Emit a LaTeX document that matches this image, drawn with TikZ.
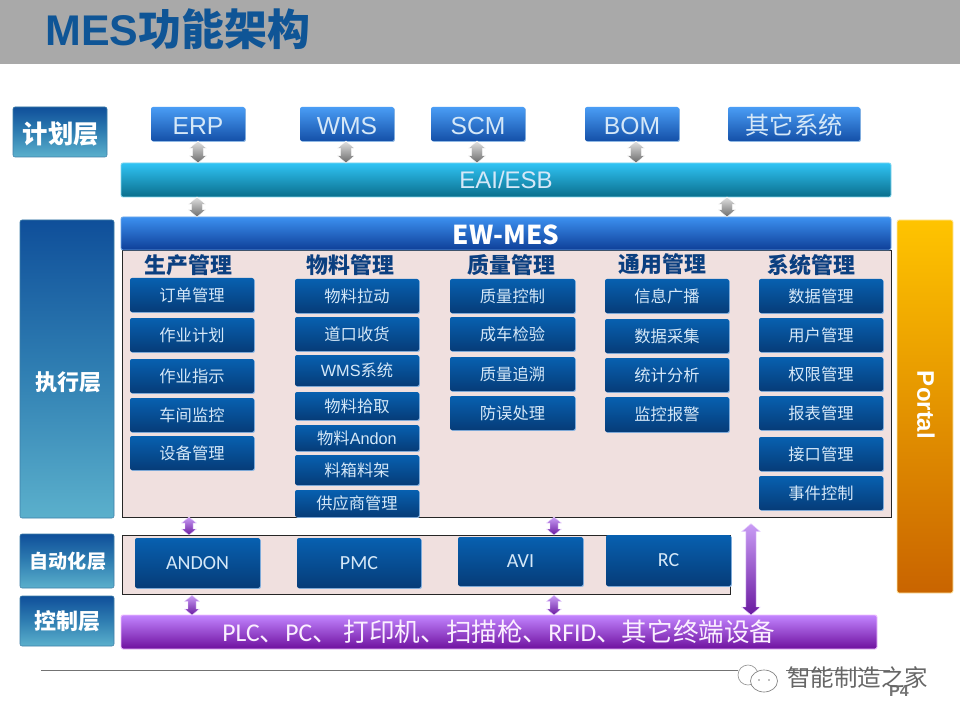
\documentclass[tikz,border=0pt]{standalone}
\usepackage{fontspec}
\setmainfont{Noto Sans CJK SC}
\newfontfamily\arialf{Liberation Sans}
\newfontfamily\calf{Carlito}
\usetikzlibrary{calc,shadows}
\definecolor{hdr}{HTML}{A9A9A9}
\definecolor{ttl}{HTML}{0F5596}
\definecolor{pnl}{HTML}{F0E0DF}
\definecolor{txtb}{HTML}{D5E8F8}
\definecolor{ltop}{HTML}{0F4F9A}\definecolor{lbot}{HTML}{5BB0CC}\definecolor{lmid}{HTML}{2F7EB2}\definecolor{ledge}{HTML}{3E7FA8}
\definecolor{stop}{HTML}{4A9DF5}\definecolor{sbot}{HTML}{1450A8}\definecolor{sedge}{HTML}{9CC8F2}
\definecolor{etop}{HTML}{30C4F5}\definecolor{ebot}{HTML}{0A6E8C}\definecolor{eedge}{HTML}{7FD6EE}
\definecolor{wtop}{HTML}{3C90F0}\definecolor{wbot}{HTML}{0E3F98}\definecolor{wedge}{HTML}{6FA8E8}
\definecolor{mtop}{HTML}{0760B0}\definecolor{mbot}{HTML}{063C78}\definecolor{medge}{HTML}{8FB8E4}
\definecolor{ptop}{HTML}{FFC400}\definecolor{pbot}{HTML}{C96400}\definecolor{pedge}{HTML}{FFE9A8}
\definecolor{ctop}{HTML}{C285FF}\definecolor{cbot}{HTML}{6E109E}\definecolor{cedge}{HTML}{F0C0FF}\definecolor{ctxt}{HTML}{FBEFFF}
\definecolor{tcol}{HTML}{0B3F80}\definecolor{gtop}{HTML}{E2E2E2}\definecolor{gbot}{HTML}{6A6A6A}
\definecolor{vtop}{HTML}{C99CF5}\definecolor{vbot}{HTML}{6A1AA0}\definecolor{vedge}{HTML}{E8D0FF}
\tikzset{
  x=0.75pt,y=-0.75pt,
  base/.style={anchor=north west,inner sep=0pt,outer sep=0pt,align=center,rounded corners=1.5pt},
  glow/.style={drop shadow={shadow xshift=.7pt,shadow yshift=-.7pt,fill=medge,opacity=1}},
  layerbox/.style={base,top color=ltop,bottom color=lbot,middle color=lmid,draw=ledge,line width=.4pt,text=white,font=\bfseries},
  sysbox/.style={base,glow,top color=stop,bottom color=sbot,text=txtb,font=\arialf\fontsize{18.5}{22}\selectfont},
  eaibox/.style={base,top color=etop,bottom color=ebot,draw=eedge,line width=.6pt,text=txtb,font=\arialf\fontsize{18}{21}\selectfont},
  ewbox/.style={base,top color=wtop,bottom color=wbot,draw=wedge,line width=.6pt,text=white,font=\bfseries\fontsize{19.5}{23}\selectfont},
  modbox/.style={base,glow,top color=mtop,bottom color=mbot,text=txtb,font=\fontsize{12.2}{14}\selectfont},
  autobox/.style={modbox,font=\calf\fontsize{15}{18}\selectfont},
  panelbox/.style={base,rounded corners=0pt,fill=pnl,draw=black!85,line width=.7pt},
  portalbox/.style={base,top color=ptop,bottom color=pbot,draw=pedge,line width=.6pt},
  ctrlbox/.style={base,top color=ctop,bottom color=cbot,draw=cedge,line width=.7pt,text=ctxt,font=\fontsize{19.2}{23}\selectfont},
  coltitle/.style={text=tcol,font=\bfseries\fontsize{16.4}{19}\selectfont,inner sep=0pt},
  grayarrow/.style={top color=gtop,bottom color=gbot,draw=white,line width=.3pt},
  purparrow/.style={top color=vtop,bottom color=vbot,draw=vedge,line width=.3pt},
}
% extra height above the text moves it down in its centred node by half of #1
\newcommand{\dnby}[2]{\raisebox{0pt}[\dimexpr\height+#1\relax]{#2}}
% \bx{style}{name}{x1}{y1}{x2}{y2}{text}
\newcommand{\bx}[7]{%
  \pgfmathsetmacro{\bw}{(#5-#3)*0.75}\pgfmathsetmacro{\bh}{(#6-#4)*0.75}%
  \node[#1,minimum width=\bw pt,minimum height=\bh pt] (#2) at (#3,#4) {#7};}
% \conn{style}{from}{to}{x}{gap}{head half width}{shaft half width}{head length} (pt)
\newcommand{\conn}[8]{%
  \path[#1] let \p1=(#2.south),\p2=(#3.north),\p3=(#4,0) in
    (\x3,\y1-#5pt) -- (\x3+#6pt,\y1-#5pt-#8pt) -- (\x3+#7pt,\y1-#5pt-#8pt)
    -- (\x3+#7pt,\y2+#8pt) -- (\x3+#6pt,\y2+#8pt) -- (\x3,\y2)
    -- (\x3-#6pt,\y2+#8pt) -- (\x3-#7pt,\y2+#8pt) -- (\x3-#7pt,\y1-#5pt-#8pt)
    -- (\x3-#6pt,\y1-#5pt-#8pt) -- cycle;}
\begin{document}
\begin{tikzpicture}
\useasboundingbox (0,0) rectangle (960,720);
\fill[white] (0,0) rectangle (960,720);
\fill[hdr] (0,0) rectangle (960,64);
\node[anchor=west,inner sep=0pt,text=ttl,font=\bfseries\fontsize{32.2}{38}\selectfont] (title) at (45,29) {{\arialf MES}功能架构};
% layers
\bx{layerbox,font=\bfseries\fontsize{19}{22}\selectfont}{plan}{13}{107}{107}{157}{\hspace{1.5pt}\dnby{2.4pt}{计划层}}
\bx{layerbox,font=\bfseries\fontsize{16.5}{20}\selectfont}{exec}{20}{220}{114}{518}{\hspace{1.5pt}\dnby{19.5pt}{执行层}}
\bx{layerbox,font=\bfseries\fontsize{14.3}{18}\selectfont}{autol}{20}{534}{114}{588}{\hspace{1.5pt}自动化层}
\bx{layerbox,font=\bfseries\fontsize{16.5}{20}\selectfont}{ctrll}{20}{596}{114}{646}{控制层}
% systems
\bx{sysbox}{erp}{151}{107}{245}{141}{\dnby{2.4pt}{ERP}}
\bx{sysbox}{wms}{300}{107}{394}{141}{\dnby{2.4pt}{WMS}}
\bx{sysbox}{scm}{431}{107}{525}{141}{\dnby{2.4pt}{SCM}}
\bx{sysbox}{bom}{585}{107}{679}{141}{\dnby{2.4pt}{BOM}}
\bx{sysbox,font=\fontsize{18.2}{22}\selectfont}{oth}{728}{107}{860}{141}{\dnby{2pt}{其它系统}}
\bx{eaibox}{eai}{121}{163}{891}{197}{EAI/ESB}
\bx{panelbox}{panel}{122}{250}{891}{517}{}
\bx{ewbox}{ew}{121}{217}{891}{250}{\dnby{2.4pt}{EW-MES}}
\bx{portalbox}{portal}{897}{220}{953}{593}{}
\node[rotate=-90,text=white,font=\arialf\bfseries\fontsize{18}{21}\selectfont,inner sep=0pt] (portaltxt) at (926,405) {Portal};
% column titles
\node[coltitle] (t1) at (188.5,265.5) {生产管理};
\node[coltitle] (t2) at (350.5,265.5) {物料管理};
\node[coltitle] (t3) at (511.5,265.5) {质量管理};
\node[coltitle] (t4) at (662.5,264.5) {通用管理};
\node[coltitle] (t5) at (811.5,265.5) {系统管理};
% column 1
\bx{modbox}{a1}{130}{278}{254}{312}{订单管理}
\bx{modbox}{a2}{130}{318}{254}{352}{作业计划}
\bx{modbox}{a3}{130}{359}{254}{393}{作业指示}
\bx{modbox}{a4}{130}{398}{254}{432}{车间监控}
\bx{modbox}{a5}{130}{436}{254}{470}{设备管理}
% column 2
\bx{modbox}{b1}{295}{279}{419}{313}{物料拉动}
\bx{modbox}{b2}{295}{317}{419}{351}{道口收货}
\bx{modbox}{b3}{295}{355}{419}{386}{{\arialf WMS}系统}
\bx{modbox}{b4}{295}{392}{419}{420}{物料拾取}
\bx{modbox}{b5}{295}{425}{419}{451}{物料{\arialf Andon}}
\bx{modbox}{b6}{295}{455}{419}{485}{料箱料架}
\bx{modbox}{b7}{295}{490}{419}{517}{供应商管理}
% column 3
\bx{modbox}{c1}{450}{279}{575}{313}{质量控制}
\bx{modbox}{c2}{450}{317}{575}{351}{成车检验}
\bx{modbox}{c3}{450}{357}{575}{391}{质量追溯}
\bx{modbox}{c4}{450}{396}{575}{430}{防误处理}
% column 4
\bx{modbox}{d1}{605}{279}{729}{313}{信息广播}
\bx{modbox}{d2}{605}{319}{729}{353}{数据采集}
\bx{modbox}{d3}{605}{358}{729}{392}{统计分析}
\bx{modbox}{d4}{605}{397}{729}{432}{监控报警}
% column 5
\bx{modbox}{e1}{759}{279}{883}{313}{数据管理}
\bx{modbox}{e2}{759}{318}{883}{352}{用户管理}
\bx{modbox}{e3}{759}{357}{883}{391}{权限管理}
\bx{modbox}{e4}{759}{396}{883}{430}{报表管理}
\bx{modbox}{e5}{759}{437}{883}{471}{接口管理}
\bx{modbox}{e6}{759}{476}{883}{510}{事件控制}
% automation
\bx{panelbox}{autop}{122}{535}{730}{594}{}
\bx{autobox}{andon}{135}{538}{260}{588}{ANDON}
\bx{autobox}{pmc}{297}{538}{421}{588}{PMC}
\bx{autobox}{avi}{458}{537}{583}{586}{AVI}
\bx{autobox}{rc}{606}{535}{731}{586}{RC}
% control bar
\bx{ctrlbox}{ctrl}{121}{615}{877}{649}{{\calf PLC}、{\calf PC}、 打印机、扫描枪、{\calf RFID}、其它终端设备}
% gray connectors
\conn{grayarrow}{erp}{eai}{198}{0}{6.5}{4.2}{5.5}
\conn{grayarrow}{wms}{eai}{346}{0}{6.5}{4.2}{5.5}
\conn{grayarrow}{scm}{eai}{477}{0}{6.5}{4.2}{5.5}
\conn{grayarrow}{bom}{eai}{636}{0}{6.5}{4.2}{5.5}
\conn{grayarrow}{eai}{ew}{197}{0}{6.5}{4.2}{5.5}
\conn{grayarrow}{eai}{ew}{727}{0}{6.5}{4.2}{5.5}
% purple connectors
\conn{purparrow}{panel}{autop}{189}{0}{5.5}{3}{4.5}
\conn{purparrow}{panel}{autop}{554}{0}{5.5}{3}{4.5}
\conn{purparrow}{autop}{ctrl}{192}{1}{5.5}{3}{4.5}
\conn{purparrow}{autop}{ctrl}{554}{1}{5.5}{3}{4.5}
\conn{purparrow}{panel}{ctrl}{751}{5}{7}{3.8}{6}
% footer
\coordinate (ls) at (41,670);
\coordinate (le) at (890,670);
\draw[black!55,line width=.6pt] (ls) -- (le);
\node[text=black!55,font=\arialf\bfseries\fontsize{12}{14}\selectfont,inner sep=0pt] (pg) at (899,691) {P4};
\fill[white] (738,664) rectangle (786,696);
\draw[black!40,line width=.5pt] (748,675) ellipse [x radius=10,y radius=10];
\draw[black!50,line width=.5pt,fill=white] (764,681) ellipse [x radius=13.5,y radius=11];
\fill[black!50] (759,680) circle [radius=.9] (769,680) circle [radius=.9];
\node[text=black!60,font=\fontsize{17.6}{21}\selectfont,inner sep=0pt,anchor=west] (wm) at (787,677) {智能制造之家};
\end{tikzpicture}
\end{document}
